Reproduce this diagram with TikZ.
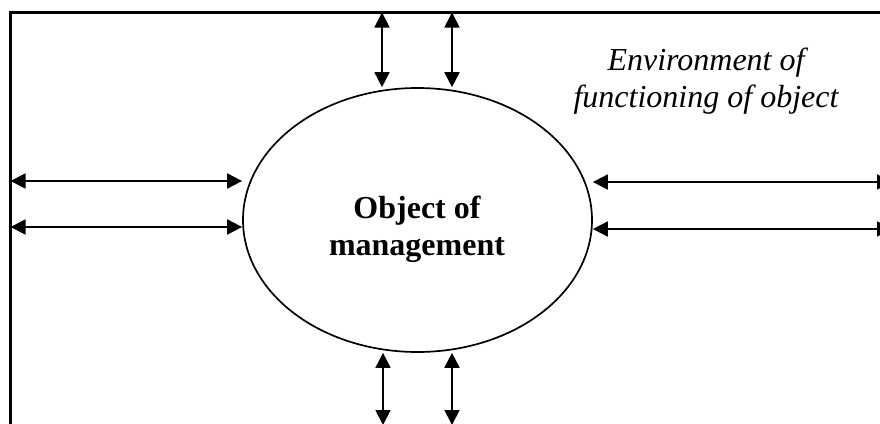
\documentclass[tikz,border=0pt]{standalone}
\usepackage{fontspec}
\setmainfont{Liberation Serif}
\usetikzlibrary{shapes.geometric,arrows.meta}

\begin{document}
\begin{tikzpicture}[
    x=1pt, y=-1pt,
    >={Triangle[length=15pt,width=15pt]},
    link/.style={<->, line width=1.8pt},
    objshape/.style={
        ellipse,
        draw,
        line width=1.7pt,
        minimum width=349pt,
        minimum height=264pt,
        inner sep=0pt
    },
    boldtext/.style={font=\fontsize{32}{37}\selectfont\bfseries, align=center},
    envtext/.style={font=\fontsize{32}{37}\selectfont\itshape, align=center}
]

    \useasboundingbox (0,0) rectangle (880,423);
    \clip (0,0) rectangle (880,423);

    % Frame of the environment
    \coordinate (ftl) at (10.5,12.5);
    \coordinate (fbr) at (892,425);
    \draw[line width=2.2pt] (ftl) rectangle (fbr);

    % Object
    \node[objshape] (obj) at (417.5,220) {};
    \node[boldtext] (objlabel) at (417,229) {Object of\\management};

    \node[envtext] (env) at (706,81) {Environment of\\functioning of object};

    % Free ends on the frame
    \coordinate (t1) at (382,12.5);
    \coordinate (t2) at (452,12.5);
    \coordinate (b1) at (383,425);
    \coordinate (b2) at (452,425);
    \coordinate (l1) at (10.5,181);
    \coordinate (l2) at (10.5,227);
    \coordinate (r1) at (892,182);
    \coordinate (r2) at (892,229);

    % Links
    \draw[link] (t1) -- (t1 |- obj.north);
    \draw[link] (t2) -- (t2 |- obj.north);
    \draw[link] (b1) -- (b1 |- obj.south);
    \draw[link] (b2) -- (b2 |- obj.south);
    \draw[link] (l1) -- (l1 -| obj.west);
    \draw[link] (l2) -- (l2 -| obj.west);
    \draw[link] (r1) -- (r1 -| obj.east);
    \draw[link] (r2) -- (r2 -| obj.east);

\end{tikzpicture}
\end{document}
